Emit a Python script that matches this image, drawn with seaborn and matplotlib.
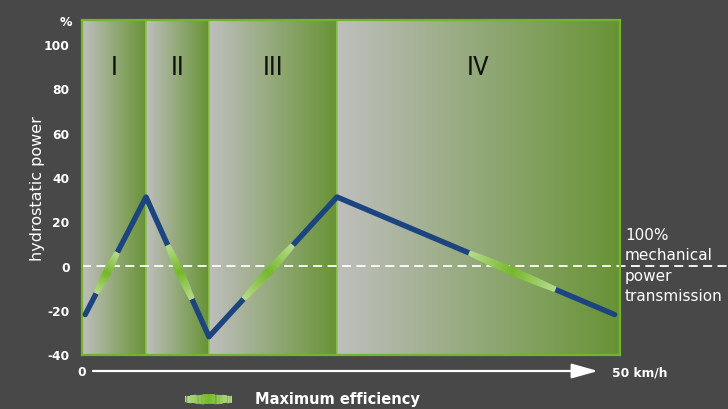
import numpy as np
import matplotlib
matplotlib.use("Agg")
import matplotlib.pyplot as plt
from matplotlib.colors import LinearSegmentedColormap
from matplotlib.collections import LineCollection
import seaborn as sns

# data
speed_kmh = [0.3, 5.95, 11.8, 23.7, 49.5]
hydro_power = [-22, 31, -32, 31, -22]
range_edges = [0, 5.95, 11.8, 23.7, 50]
range_labels = ["I", "II", "III", "IV"]
# hydrostatic power at start / end of the max-efficiency band on each leg
eff_start = [-12.5, 9.3, -15, 5.8]
eff_end = [6, -15, 9.3, -10.7]
y_ticks = [-40, -20, 0, 20, 40, 60, 80, 100]

BG = "#484848"
BLUE = "#1c4580"
FRAME = "#72b52b"

sns.set_style("white", rc={"figure.facecolor": BG, "axes.facecolor": BG})
plt.rcParams["font.family"] = ["DejaVu Sans"]
plt.rcParams["axes.unicode_minus"] = False

fig = plt.figure(figsize=(7.28, 4.10), dpi=100)
ax = fig.add_axes([82 / 728, 1 - 355.5 / 410, 538 / 728, 334.5 / 410])

ylo, yhi = -40, 110.8
region_cmap = LinearSegmentedColormap.from_list(
    "region", [(0, "#bebebc"), (0.06, "#babcb6"), (1, "#679334")])
grad = np.linspace(0, 1, 256).reshape(1, -1)
for x0, x1, lab in zip(range_edges[:-1], range_edges[1:], range_labels):
    ax.imshow(grad, extent=[x0, x1, ylo, yhi], aspect="auto", cmap=region_cmap,
              zorder=0, interpolation="bicubic")
    ax.text((x0 + x1) / 2, 89.5, lab, ha="center", va="center",
            fontsize=18, color="#111111", family="Roboto")
for x in range_edges[1:-1]:
    ax.axvline(x, color="#8dc24e", lw=1.2, zorder=1)

# zero line (100% mechanical)
ax.plot([0, 60], [0, 0], color="white", lw=1.3, ls=(0, (5, 3)), clip_on=False, zorder=2)

sns.lineplot(x=speed_kmh, y=hydro_power, ax=ax, color=BLUE, lw=3.9,
             solid_capstyle="round", zorder=3)

eff_cmap = LinearSegmentedColormap.from_list(
    "eff", ["#b8dc8e", "#76b82a", "#b8dc8e"])


def lens(ax_, xs, ys, wmin, wmax, n=60, **kw):
    t = np.linspace(0, 1, n + 1)
    ov = 0.8 / n
    t0 = t[:-1]
    t1 = np.minimum(t[1:] + ov, 1)
    segs = []
    for a, b in zip(t0, t1):
        segs.append([(xs[0] + (xs[1] - xs[0]) * a, ys[0] + (ys[1] - ys[0]) * a),
                     (xs[0] + (xs[1] - xs[0]) * b, ys[0] + (ys[1] - ys[0]) * b)])
    tm = (t[:-1] + t[1:]) / 2
    lc = LineCollection(segs, colors=eff_cmap(tm),
                        linewidths=wmin + (wmax - wmin) * np.sin(np.pi * tm),
                        capstyle="butt", antialiased=True, **kw)
    ax_.add_collection(lc)


for i in range(4):
    xa, xb = speed_kmh[i], speed_kmh[i + 1]
    ya, yb = hydro_power[i], hydro_power[i + 1]
    fx = [xa + (xb - xa) * (v - ya) / (yb - ya) for v in (eff_start[i], eff_end[i])]
    lens(ax, fx, [eff_start[i], eff_end[i]], 3.9, 5.8, zorder=4)

ax.set_xlim(0, 50)
ax.set_ylim(ylo, yhi)
ax.set_xticks([])
ax.set_yticks(y_ticks)
ax.tick_params(axis="y", length=0, pad=9, labelcolor="white", labelsize=8.8)
for t in ax.get_yticklabels():
    t.set_fontweight("bold")
for s in ax.spines.values():
    s.set_color(FRAME)
    s.set_linewidth(1.6)
    s.set_visible(True)

ax.set_ylabel("hydrostatic power", color="white", fontsize=11.5)
ax.yaxis.set_label_coords(-0.068, 0.50)
fig.text(72 / 728, 1 - 22 / 410, "%", color="white", fontsize=9, fontweight="bold",
         ha="right", va="center")

fig.text(625 / 728, 1 - 266 / 410, "100%\nmechanical\npower\ntransmission",
         color="white", fontsize=11, ha="left", va="center", linespacing=1.45)

# speed axis arrow
fig.text(82 / 728, 1 - 373 / 410, "0", color="white", fontsize=8.8, fontweight="bold",
         ha="center", va="center")
ax.annotate("", xy=(598 / 728, 1 - 372 / 410), xytext=(93 / 728, 1 - 372 / 410),
            xycoords="figure fraction", textcoords="figure fraction",
            arrowprops=dict(arrowstyle="-|>,head_length=1.6,head_width=0.45",
                            color="white", lw=1.6, shrinkA=0, shrinkB=0))
fig.text(612 / 728, 1 - 373 / 410, "50 km/h", color="white", fontsize=8.8,
         fontweight="bold", ha="left", va="center")

# legend
lax = fig.add_axes([185 / 728, 1 - 408 / 410, 47 / 728, 16 / 410])
lax.set_axis_off()
lens(lax, [0, 1], [0, 0], 4.5, 7.0)
lax.set_xlim(0, 1)
lax.set_ylim(-1, 1)
fig.text(255 / 728, 1 - 400 / 410, "Maximum efficiency", color="white", fontsize=10.5,
         fontweight="bold", ha="left", va="center")

fig.savefig("out.png", dpi=100, facecolor=BG)
